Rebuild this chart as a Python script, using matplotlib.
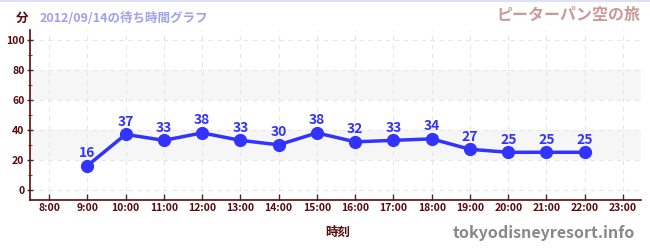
import matplotlib
matplotlib.use("Agg")
import matplotlib.pyplot as plt
from matplotlib.ticker import MultipleLocator

plt.rcParams['font.family'] = ['Noto Sans CJK JP', 'DejaVu Sans']

hours = [9, 10, 11, 12, 13, 14, 15, 16, 17, 18, 19, 20, 21, 22]
waits = [16, 37, 33, 38, 33, 30, 38, 32, 33, 34, 27, 25, 25, 25]
xticks = list(range(8, 24))
xlabels = [f"{h}:00" for h in xticks]
yticks = [0, 20, 40, 60, 80, 100]

axis_col = '#5a0a0a'
line_col = '#3333ff'

fig = plt.figure(figsize=(6.5, 2.5), dpi=100)
ax = fig.add_axes([30/650, 1-200/250, (641-30)/650, 170/250])
ax.set_xlim(7.5, 23.47)
ax.set_ylim(-7, 107)

for lo, hi in [(20, 40), (60, 80)]:
    ax.axhspan(lo, hi, color='#f6f6f6', zorder=0, lw=0)

ax.grid(True, which='major', color='#e6e6e6', ls=(0, (4, 4)), lw=0.8, zorder=0.5)
ax.set_axisbelow(True)

ax.plot(hours, waits, color=line_col, lw=2.5, marker='o', ms=8.5, zorder=3)
for h, w in zip(hours, waits):
    ax.annotate(str(w), (h, w), xytext=(0, 4), textcoords='offset points',
                ha='center', va='bottom', color=line_col, fontsize=10, fontweight='bold')

ax.set_xticks(xticks)
ax.set_xticklabels(xlabels)
ax.set_yticks(yticks)
ax.yaxis.set_minor_locator(MultipleLocator(10))
ax.tick_params(axis='both', which='major', labelsize=7.5, labelcolor=axis_col, length=4, width=1, color='#333333')
ax.tick_params(axis='x', which='major', direction='in', pad=2)
ax.tick_params(axis='y', which='major', direction='inout', pad=2)
ax.tick_params(axis='y', which='minor', length=3, color='#cc0000', direction='inout')
for lab in ax.get_xticklabels() + ax.get_yticklabels():
    lab.set_fontweight('bold')

for s in ['top', 'right']:
    ax.spines[s].set_visible(False)
for s in ['left', 'bottom']:
    ax.spines[s].set_color(axis_col)
    ax.spines[s].set_linewidth(1.2)

fig.add_artist(plt.Line2D([0, 1], [0.997, 0.997], color='#dde0f8', lw=1.5))
fig.text(22/650, 1-18/250, '分', color=axis_col, fontsize=9, fontweight='bold', ha='center', va='center')
fig.text(40/650, 1-18/250, '2012/09/14の待ち時間グラフ', color='#a0a0f0', fontsize=9, fontweight='bold', ha='left', va='center')
fig.text(640/650, 1-15/250, 'ピーターパン空の旅', color='#cc9999', fontsize=11.5, fontweight='bold', ha='right', va='center')
fig.text(338/650, 1-232/250, '時刻', color=axis_col, fontsize=9, fontweight='bold', ha='center', va='center')
fig.text(635/650, 1-233/250, 'tokyodisneyresort.info', color='#888888', fontsize=11.5, fontweight='bold', ha='right', va='center')

fig.savefig('out.png', dpi=100)
